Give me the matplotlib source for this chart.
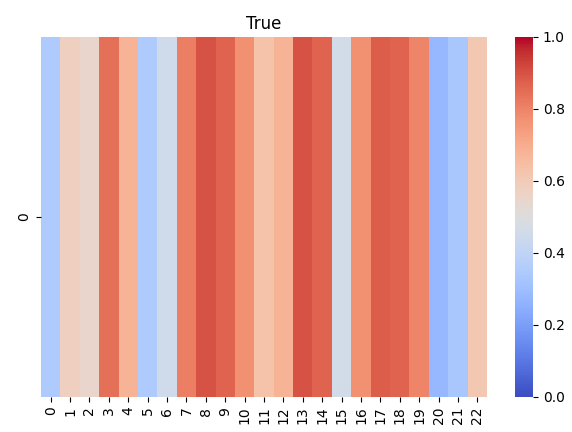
import numpy as np
import matplotlib
matplotlib.use("Agg")
import matplotlib.pyplot as plt
import seaborn as sns

values = [0.35, 0.58, 0.55, 0.84, 0.68, 0.35, 0.45, 0.81, 0.90, 0.87, 0.77, 0.63,
          0.68, 0.90, 0.87, 0.46, 0.77, 0.88, 0.87, 0.80, 0.28, 0.33, 0.61]
col_labels = [str(i) for i in range(len(values))]
row_labels = ["0"]
title = "True"

W, H = 572, 432
fig = plt.figure(figsize=(W / 100, H / 100), dpi=100)
ax = fig.add_axes([41 / W, 35 / H, 446 / W, 360 / H])
cax = fig.add_axes([515 / W, 35 / H, 18 / W, 360 / H])
sns.heatmap(np.array([values]), cmap="coolwarm", vmin=0, vmax=1, ax=ax, cbar_ax=cax,
            xticklabels=col_labels, yticklabels=row_labels)
ax.tick_params(axis="x", labelrotation=90)
ax.tick_params(axis="y", labelrotation=90)
ax.set_title(title)
fig.savefig("out.png", dpi=100)
